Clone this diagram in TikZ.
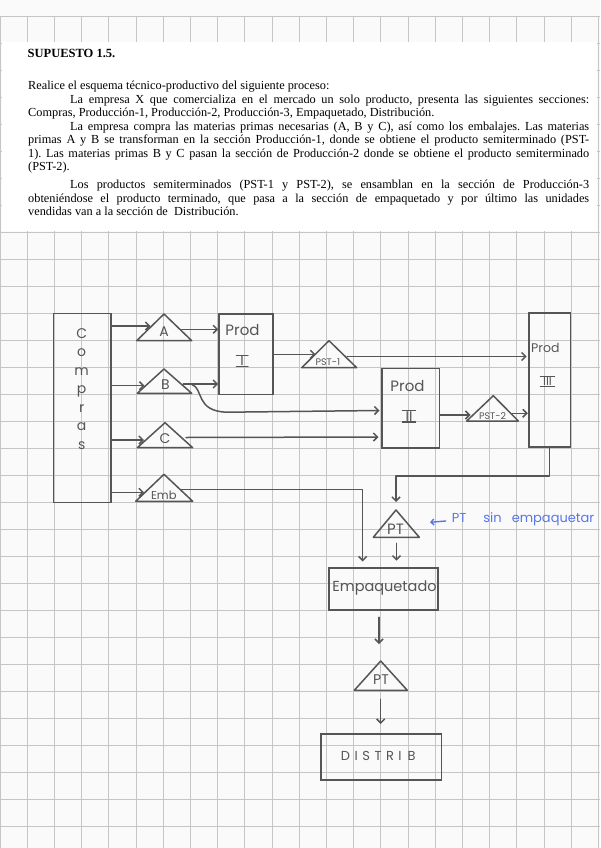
\documentclass[tikz,border=0pt]{standalone}
\usepackage{fontspec}
\setmainfont{Liberation Serif}
\newfontfamily\hand{Poppins}
\usetikzlibrary{arrows.meta}
\hyphenpenalty=10000
\emergencystretch=20pt
\frenchspacing
\definecolor{ink}{RGB}{85,85,85}
\definecolor{gridc}{RGB}{198,198,198}
\definecolor{paper}{RGB}{250,250,250}
\definecolor{bluepen}{RGB}{88,118,232}
\tikzset{
  box/.style={draw=ink, line width=1.6pt, inner sep=0pt},
  ln/.style={draw=ink, line width=1.5pt, line cap=round, line join=round},
  arr/.style={ln, -{Straight Barb[length=4pt,width=8pt]}},
  lbl/.style={text=ink, inner sep=0pt, font=\hand\fontsize{#1}{#1}\selectfont},
  bar/.style={draw=ink, line width=1.1pt, line cap=round},
  gridline/.style={draw=gridc, line width=0.9pt},
}
\begin{document}
\begin{tikzpicture}[x=1pt,y=-1pt]
\useasboundingbox (0,0) rectangle (600,848);
\fill[paper] (0,0) rectangle (600,848);
% squared paper
\foreach \i in {0,...,22} \draw[gridline] (0.1+27.2*\i,16.7) -- (0.1+27.2*\i,848);
\foreach \j in {0,...,30} \draw[gridline] (0,16.7+27*\j) -- (600,16.7+27*\j);
% statement sheet
\fill[white] (1.5,41.7) rectangle (597,231);

\node[anchor=base west, inner sep=0pt, font=\bfseries\fontsize{12.5}{13.45}\selectfont] (title) at (27.5,57.3) {SUPUESTO 1.5.};
\node[anchor=base west, inner sep=0pt, text width=561pt, align=justify,
      font=\fontsize{12.3}{13.45}\selectfont] (body) at (28,90) {%
Realice el esquema técnico-productivo del siguiente proceso:\par
\hspace*{42pt}La empresa X que comercializa en el mercado un solo producto, presenta las siguientes secciones:\linebreak
Compras, Producción-1, Producción-2, Producción-3, Empaquetado, Distribución.\par
\hspace*{42pt}La empresa compra las materias primas necesarias (A, B y C), así como los embalajes. Las materias\linebreak
primas A y B se transforman en la sección Producción-1, donde se obtiene el producto semiterminado (PST-\linebreak
1). Las materias primas B y C pasan la sección de Producción-2 donde se obtiene el producto semiterminado\linebreak
(PST-2).\par\vspace{4.5pt}
\hspace*{42pt}Los productos semiterminados (PST-1 y PST-2), se ensamblan en la sección de Producción-3\linebreak
obteniéndose el producto terminado, que pasa a la sección de empaquetado y por último las unidades\linebreak
vendidas van a la sección de\ \ Distribución.};

% boxes
\node[box, minimum width=57.7pt, minimum height=189pt] (compras) at (82.15,407.8) {};
\node[text=ink, inner sep=0pt, align=center, font=\hand\fontsize{14}{18.5}\selectfont] (comprast) at (81.7,389) {C\\o\\m\\p\\r\\a\\s};
\node[box, minimum width=53.7pt, minimum height=80.3pt] (prodI) at (245.85,354.15) {};
\node[box, minimum width=57.3pt, minimum height=79.4pt] (prodII) at (410.65,408) {};
\node[box, minimum width=41.3pt, minimum height=134pt] (prodIII) at (549.65,379.7) {};
\node[box, minimum width=109pt, minimum height=42.3pt] (empaq) at (383.5,588.85) {};
\node[box, minimum width=120.6pt, minimum height=46pt] (distrib) at (381,757) {};

\node[lbl=15] (prodIt) at (242.5,330.3) {Prod};
\node[lbl=14, inner xsep=4pt, inner ysep=0.6pt] (numI) at (242.2,361) {I};
\draw[bar] (numI.north west) -- (numI.north east) (numI.south west) -- (numI.south east);
\node[lbl=15] (prodIIt) at (407.5,386.3) {Prod};
\node[lbl=14, inner xsep=3pt, inner ysep=0.6pt] (numII) at (409,416.3) {II};
\draw[bar] (numII.north west) -- (numII.north east) (numII.south west) -- (numII.south east);
\node[lbl=12.5] (prodIIIt) at (545.3,347.8) {Prod};
\node[lbl=12, inner xsep=2.5pt, inner ysep=0.6pt] (numIII) at (547.5,381.7) {III};
\draw[bar] (numIII.north west) -- (numIII.north east) (numIII.south west) -- (numIII.south east);
\node[lbl=14.5] (empaqt) at (384.5,588.3) {Empaquetado};
\node[lbl=13] (distribt) at (378.3,755.7) {D\hspace{4.5pt}I\hspace{4.5pt}S\hspace{4.5pt}T\hspace{4.5pt}R\hspace{4.5pt}I\hspace{6pt}B};

% triangles
\draw[ln] (164,314) -- (136.7,340.7) -- (191.7,340.7) -- cycle;
\node[lbl=14] (triA) at (164,331.7) {A};
\draw[ln] (164,369) -- (137.3,393.3) -- (191.7,393.3) -- cycle;
\node[lbl=14] (triB) at (165.5,384.5) {B};
\draw[ln] (165,422.7) -- (137.3,447.7) -- (192.7,447.7) -- cycle;
\node[lbl=14] (triC) at (165,438.5) {C};
\draw[ln] (164,474.3) -- (135.7,501.3) -- (192.7,501.3) -- cycle;
\node[lbl=11.5] (triEmb) at (163.8,495) {Emb};
\draw[ln] (329,340.7) -- (301.7,367.7) -- (356.7,367.7) -- cycle;
\node[lbl=9.5] (triPSTa) at (327.8,362.5) {PST-1};
\draw[ln] (493.3,395.7) -- (466.7,421) -- (518.3,421) -- cycle;
\node[lbl=9.5] (triPSTb) at (492.5,415.8) {PST-2};
\draw[ln] (396,510) -- (373.3,537.3) -- (419.3,537.3) -- cycle;
\node[lbl=15] (triPT) at (395.5,529) {PT};
\draw[ln] (380.7,661) -- (354.3,690.3) -- (407.3,690.3) -- cycle;
\node[lbl=14] (triPTb) at (381,680) {PT};

% connection points
\coordinate (aIn) at (150.5,326);
\coordinate (aOut) at (181.7,329.3);
\coordinate (bIn) at (144.5,385.7);
\coordinate (bOut) at (183.3,384);
\coordinate (bCurve) at (191.7,384.3);
\coordinate (bMid) at (226.7,412.2);
\coordinate (bEnd) at (379.5,410.5);
\coordinate (cIn) at (144,440);
\coordinate (cOut) at (186,437.5);
\coordinate (cEnd) at (378.5,437);
\coordinate (embIn) at (144,492.3);
\coordinate (embOut) at (180.5,489.3);
\coordinate (embEnd) at (362.7,561.5);
\coordinate (pstaIn) at (315.5,354.3);
\coordinate (pstaOut) at (347.3,356.5);
\coordinate (pstaEnd) at (526.7,356.5);
\coordinate (pstbIn) at (470.5,415);
\coordinate (pstbOut) at (512.5,413.3);
\coordinate (pstbEnd) at (527.8,413.3);
\coordinate (ptTurn) at (549.65,476);
\coordinate (ptIn) at (396,502);
\coordinate (ptOut) at (396.5,543.3);
\coordinate (ptEnd) at (396.5,560.7);
\coordinate (empOut) at (379,617.3);
\coordinate (ptbIn) at (379,644);
\coordinate (ptbOut) at (380.7,699.3);
\coordinate (distIn) at (380.7,724);

% connectors
\draw[arr] (compras.east |- aIn) -- (aIn);
\draw[arr] (compras.east |- bIn) -- (bIn);
\draw[arr] (compras.east |- cIn) -- (cIn);
\draw[arr] (compras.east |- embIn) -- (embIn);
\draw[arr] (aOut) -- (prodI.west |- aOut);
\draw[arr] (bOut) -- (prodI.west |- bOut);
\draw[arr] (bCurve) .. controls (204,389) and (195,411) .. (bMid) -- (bEnd);
\draw[arr] (cOut) -- (cEnd);
\draw[arr] (prodI.east |- pstaIn) -- (pstaIn);
\draw[arr] (pstaOut) -- (pstaEnd);
\draw[arr] (prodII.east |- pstbIn) -- (pstbIn);
\draw[arr] (pstbOut) -- (pstbEnd);
\draw[arr] (prodIII.south) -- (ptTurn) -| (ptIn);
\draw[arr] (embOut) -| (embEnd);
\draw[arr] (ptOut) -- (ptEnd);
\draw[arr] (empOut) -- (ptbIn);
\draw[arr] (ptbOut) -- (distIn);

% blue note
\node[anchor=base west, inner sep=0pt, text=bluepen, font=\hand\fontsize{13}{13}\selectfont] (note) at (451.7,522) {PT\hspace{17pt}sin\hspace{10pt}empaquetar};
\coordinate (noteTip) at (430,522.3);
\draw[draw=bluepen, line width=1.4pt, line cap=round, -{Straight Barb[length=3pt,width=6pt]}] (445.7,521) -- (noteTip);
\end{tikzpicture}
\end{document}
